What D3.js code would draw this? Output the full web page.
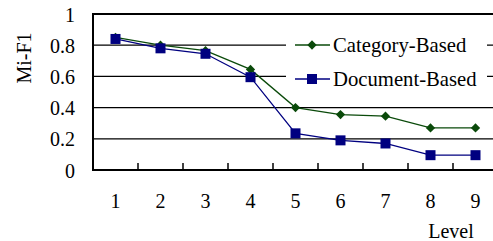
<!DOCTYPE html>
<html><head><meta charset="utf-8">
<script src="https://cdn.jsdelivr.net/npm/d3@7"></script>
<style>body{margin:0;background:#fff}svg{display:block}</style>
</head><body><svg id="c" width="493" height="241" font-family="Liberation Serif"></svg>
<script>
const levels = ["1","2","3","4","5","6","7","8","9"];
const categoryBased = [0.85, 0.80, 0.765, 0.645, 0.40, 0.355, 0.345, 0.27, 0.27];
const documentBased = [0.84, 0.78, 0.745, 0.595, 0.235, 0.19, 0.17, 0.095, 0.095];
const yTicks = [0, 0.2, 0.4, 0.6, 0.8, 1];
const seriesNames = ["Category-Based", "Document-Based"];

const FONT = "Liberation Serif";
const svg = d3.select("#c");
const x = d3.scaleBand().domain(levels).range([93, 498]);
const y = d3.scaleLinear().domain([0, 1]).range([170, 14]);
const fs = 20, lfs = 20.7;

// gridlines
svg.append("g").selectAll("line").data(yTicks.filter(t => t > 0 && t < 1)).join("line")
  .attr("x1", 93).attr("x2", 498).attr("y1", d => y(d)).attr("y2", d => y(d))
  .attr("stroke", "#000").attr("stroke-width", 1.2);

// legend background
svg.append("rect").attr("x", 286).attr("y", 30).attr("width", 201).attr("height", 64).attr("fill", "#fff");

// frame
svg.append("line").attr("x1", 93).attr("x2", 498).attr("y1", y(1)).attr("y2", y(1)).attr("stroke", "#000").attr("stroke-width", 2);
svg.append("line").attr("x1", 93).attr("x2", 93).attr("y1", y(1) - 1).attr("y2", y(0) + 1).attr("stroke", "#000").attr("stroke-width", 2);

// x axis
const xAxis = d3.axisBottom(x).tickSize(0).tickPadding(0);
const gx = svg.append("g").attr("transform", `translate(0,${y(0)})`).call(xAxis).attr("font-family", FONT).attr("font-size", fs);
gx.select(".domain").remove();
gx.selectAll("line").remove();
gx.selectAll("text").attr("y", 38).attr("dy", 0).attr("fill", "#000");
svg.append("line").attr("x1", 92).attr("x2", 498).attr("y1", y(0)).attr("y2", y(0)).attr("stroke", "#000").attr("stroke-width", 2);
svg.append("g").selectAll("line").data(levels.slice(1)).join("line")
  .attr("x1", d => x(d)).attr("x2", d => x(d)).attr("y1", y(0)).attr("y2", y(0) - 7)
  .attr("stroke", "#000").attr("stroke-width", 1.5);

// y axis labels
const yAxis = d3.axisLeft(y).tickValues(yTicks).tickFormat(d => d === 0 || d === 1 ? String(d) : d3.format(".1f")(d)).tickSize(0).tickPadding(0);
const gy = svg.append("g").attr("transform", "translate(75,0)").call(yAxis).attr("font-family", FONT).attr("font-size", fs);
gy.select(".domain").remove();
gy.selectAll("text").attr("dy", "0.35em").attr("fill", "#000");

// axis titles
svg.append("text").attr("transform", "translate(31,58) rotate(-90)").attr("text-anchor", "middle")
  .attr("font-family", FONT).attr("font-size", fs).text("Mi-F1");
svg.append("text").attr("x", 451).attr("y", 238).attr("text-anchor", "middle")
  .attr("font-family", FONT).attr("font-size", fs).text("Level");

const cx = d => x(d) + x.bandwidth() / 2;
const green = "#0a4a0a", navy = "#000080";
const line = d3.line().x((d, i) => cx(levels[i])).y(d => y(d));

svg.append("path").datum(categoryBased).attr("d", line).attr("fill", "none").attr("stroke", green).attr("stroke-width", 1.3);
svg.append("path").datum(documentBased).attr("d", line).attr("fill", "none").attr("stroke", navy).attr("stroke-width", 1.3);

const diamond = d3.symbol().type(d3.symbolDiamond2).size(55);
svg.append("g").selectAll("path").data(categoryBased).join("path")
  .attr("d", diamond).attr("transform", (d, i) => `translate(${cx(levels[i])},${y(d)})`).attr("fill", green);
svg.append("g").selectAll("rect").data(documentBased).join("rect")
  .attr("x", (d, i) => cx(levels[i]) - 5).attr("y", d => y(d) - 5).attr("width", 10).attr("height", 10).attr("fill", navy);

// legend
const leg = svg.append("g");
const ly = [45, 79];
leg.append("line").attr("x1", 295).attr("x2", 330).attr("y1", ly[0]).attr("y2", ly[0]).attr("stroke", green).attr("stroke-width", 1.3);
leg.append("path").attr("d", diamond).attr("transform", `translate(312,${ly[0]})`).attr("fill", green);
leg.append("line").attr("x1", 295).attr("x2", 330).attr("y1", ly[1]).attr("y2", ly[1]).attr("stroke", navy).attr("stroke-width", 1.3);
leg.append("rect").attr("x", 307).attr("y", ly[1] - 5).attr("width", 10).attr("height", 10).attr("fill", navy);
leg.selectAll("text.l").data(seriesNames).join("text").attr("class", "l")
  .attr("x", 333).attr("y", (d, i) => ly[i]).attr("dy", "0.35em")
  .attr("font-family", FONT).attr("font-size", lfs).attr("fill", "#000").text(d => d);
</script></body></html>
